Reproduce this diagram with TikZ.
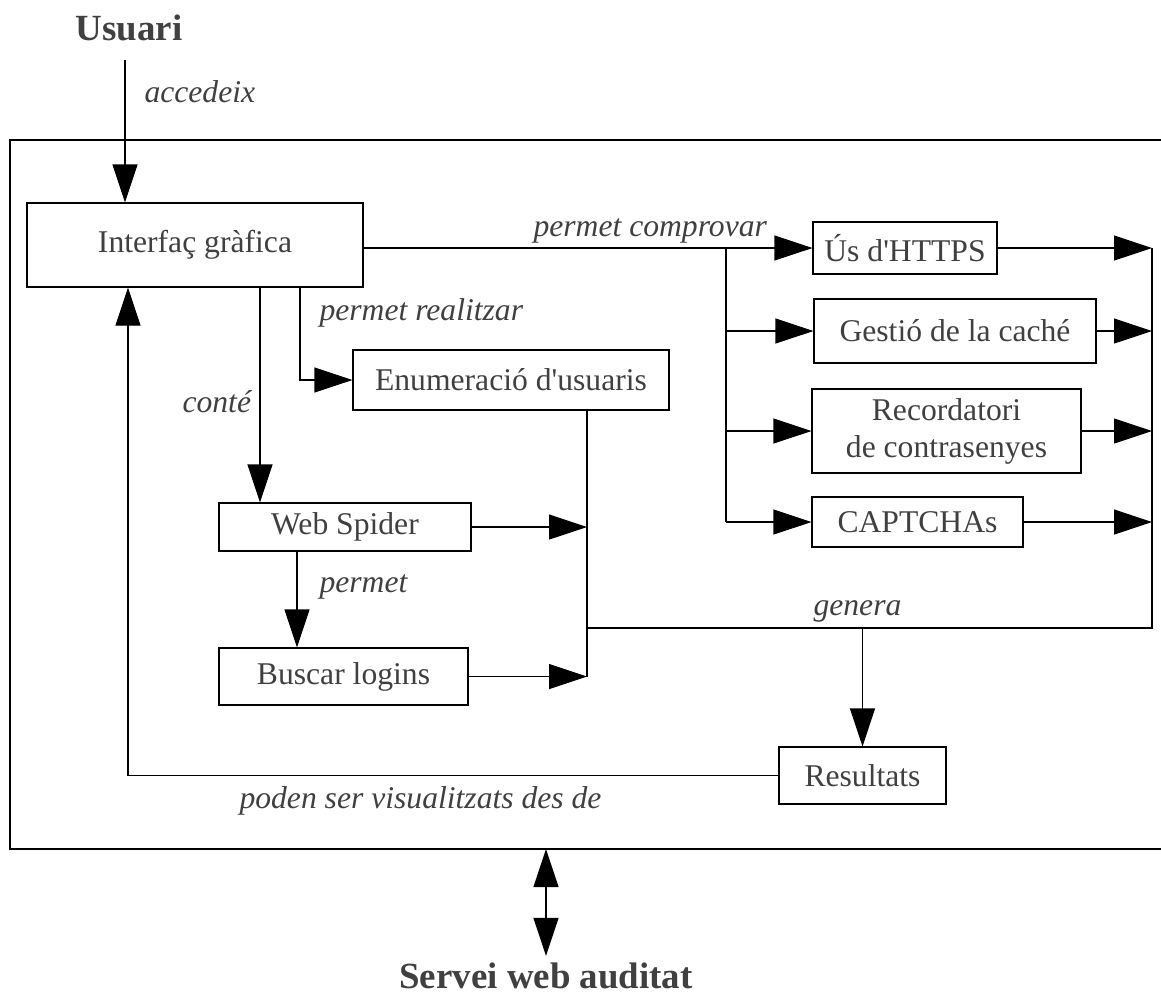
\documentclass[tikz,border=0pt]{standalone}
\usepackage{fontspec}
\setmainfont{Liberation Serif}
\usetikzlibrary{arrows.meta}

\begin{document}
\begin{tikzpicture}[>={Triangle[length=7.6mm,width=5mm]}, line width=0.6pt,
    box/.style={draw, inner sep=0pt, align=center, text=black!75, font=\fontsize{18}{21}\selectfont},
    lbl/.style={inner sep=0pt, anchor=base west, text=black!75, font=\fontsize{18}{21}\selectfont\itshape},
    ttl/.style={inner sep=0pt, anchor=base, text=black!75, font=\fontsize{21}{25}\selectfont\bfseries}]
    \useasboundingbox (0, 0) rectangle (23.22, -19.96);
    % outer frame of the tool
    \draw (0.2, -2.8) rectangle (24, -16.98);

    \node[ttl] (usr) at (2.58, -0.8) {Usuari};
    \node[ttl] (srv) at (10.92, -19.76) {Servei web auditat};

    \node[box, minimum width=6.72cm, minimum height=1.68cm] (gui) at (3.9, -4.9) {Interfaç gràfica};
    \node[box, minimum width=3.68cm, minimum height=1.04cm] (https) at (18.1, -4.96) {Ús d\textquotesingle HTTPS};
    \node[box, minimum width=5.64cm, minimum height=1.28cm] (cache) at (19.1, -6.62) {Gestió de la caché};
    \node[box, minimum width=5.38cm, minimum height=1.68cm] (pwd) at (18.93, -8.62) {Recordatori\\de contrasenyes};
    \node[box, minimum width=4.22cm, minimum height=1cm] (captcha) at (18.35, -10.44) {CAPTCHAs};
    \node[box, minimum width=6.32cm, minimum height=1.2cm] (enum) at (10.22, -7.6) {Enumeració d\textquotesingle usuaris};
    \node[box, minimum width=5.04cm, minimum height=0.96cm] (spider) at (6.9, -10.54) {Web Spider};
    \node[box, minimum width=4.98cm, minimum height=1.14cm] (login) at (6.87, -13.53) {Buscar logins};
    \node[box, minimum width=3.34cm, minimum height=1.14cm] (res) at (17.25, -15.51) {Resultats};

    \coordinate (top) at (2.5, -1.2);
    \coordinate (br) at (14.52, -4.96);
    \coordinate (col) at (23.04, -4.96);
    \coordinate (colb) at (23.04, -12.56);
    \coordinate (jn) at (11.74, -12.56);
    \coordinate (sys) at (10.92, -16.98);

    % user access
    \draw[->] (top) -- (top |- gui.north);
    \node[lbl] (lacc) at (2.88, -2.04) {accedeix};

    % checks
    \draw (gui.east |- br) -- (br);
    \draw (br) -- (br |- captcha.west);
    \draw[->] (br) -- (https.west);
    \draw[->] (br |- cache.west) -- (cache.west);
    \draw[->] (br |- pwd.west) -- (pwd.west);
    \draw[->] (br |- captcha.west) -- (captcha.west);
    \node[lbl] (lchk) at (10.66, -4.72) {permet comprovar};

    \draw[->] (https.east) -- (https.east -| col);
    \draw[->] (cache.east) -- (cache.east -| col);
    \draw[->] (pwd.east) -- (pwd.east -| col);
    \draw[->] (captcha.east) -- (captcha.east -| col);
    \draw (col) -- (colb) -- (jn);

    % enumeration, spider and logins
    \draw[->] ([xshift=2.1cm]gui.south) |- (enum.west);
    \node[lbl] (lreal) at (6.38, -6.4) {permet realitzar};
    \draw[->] ([xshift=1.3cm]gui.south) -- ([xshift=1.3cm]gui.south |- spider.north);
    \node[lbl] (lcont) at (3.64, -8.24) {conté};
    \draw[->] ([xshift=-0.96cm]spider.south) -- ([xshift=-0.96cm]spider.south |- login.north);
    \node[lbl] (lperm) at (6.38, -11.84) {permet};

    \draw (jn |- enum.south) -- (jn |- login.east);
    \draw[->] (spider.east) -- (spider.east -| jn);
    \draw[->] (login.east) -- (login.east -| jn);

    % results
    \draw[->] (res.north |- jn) -- (res.north);
    \node[lbl] (lgen) at (16.26, -12.3) {genera};
    \draw[->] (res.west) -| ([xshift=-1.34cm]gui.south);
    \node[lbl] (lvis) at (4.78, -16.16) {poden ser visualitzats des de};

    % audited service
    \draw[<->, shorten >=0.12cm] (sys) -- (sys |- srv.north);
\end{tikzpicture}
\end{document}
